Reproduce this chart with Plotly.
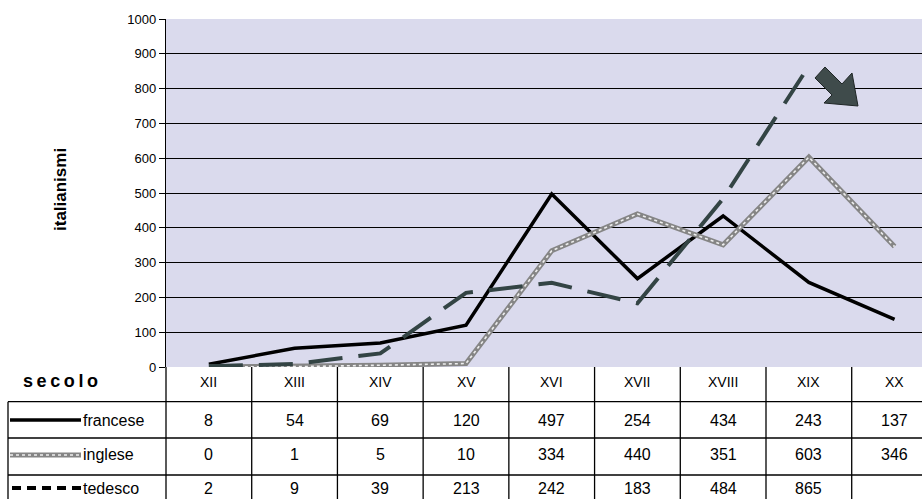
import plotly.graph_objects as go

# Italianisms per century in French, English and German
secoli = ["XII", "XIII", "XIV", "XV", "XVI", "XVII", "XVIII", "XIX", "XX"]
francese = [8, 54, 69, 120, 497, 254, 434, 243, 137]
inglese = [0, 1, 5, 10, 334, 440, 351, 603, 346]
tedesco = [2, 9, 39, 213, 242, 183, 484, 865, None]
serie = [("francese", francese), ("inglese", inglese), ("tedesco", tedesco)]
y_ticks = list(range(0, 1001, 100))

W, H = 922, 499
L, R, T, B = 166, 0, 19, 132
PW, PH = W - L - R, H - T - B
X_END = 8.32  # last column is cut by the right edge

def px(p):
    return (p - L) / PW

def py(p):
    return (H - B - p) / PH

FONT = "Liberation Sans, Arial, sans-serif"
BLACK = "#000000"
DARK = "#334444"

xs = list(range(len(secoli)))
fig = go.Figure()

fig.add_trace(go.Scatter(x=xs, y=francese, mode="lines",
                         line=dict(color=BLACK, width=3.5), hoverinfo="skip"))
fig.add_trace(go.Scatter(x=xs, y=inglese, mode="lines",
                         line=dict(color="#858585", width=5), hoverinfo="skip"))
fig.add_trace(go.Scatter(x=xs, y=inglese, mode="lines",
                         line=dict(color="#eeeeee", width=1.6, dash="dot"), hoverinfo="skip"))
fig.add_trace(go.Scatter(x=xs, y=tedesco, mode="lines",
                         line=dict(color=DARK, width=4, dash="34px,16px"), hoverinfo="skip"))

shapes = []
annotations = []

def label(x, y, text, size, xref="paper", xanchor="center", angle=0):
    annotations.append(dict(x=x, y=y, xref=xref, yref="paper", text=text,
                            xanchor=xanchor, yanchor="middle", textangle=angle,
                            showarrow=False, font=dict(family=FONT, size=size, color=BLACK)))

# data table: horizontal rules
row_lines = [401.7, 438, 475]
for yl in row_lines:
    shapes.append(dict(type="line", xref="paper", yref="paper",
                       x0=px(8), x1=1.0, y0=py(yl), y1=py(yl),
                       line=dict(color=BLACK, width=1.3)))
# vertical rules between centuries
for i in range(1, len(secoli)):
    shapes.append(dict(type="line", xref="x", yref="paper",
                       x0=i - 0.5, x1=i - 0.5, y0=0, y1=py(H),
                       line=dict(color=BLACK, width=1.3)))
# axis line continued through the table, and left border of legend column
shapes.append(dict(type="line", xref="paper", yref="paper", x0=0, x1=0,
                   y0=0, y1=py(H), line=dict(color=BLACK, width=1.3)))
shapes.append(dict(type="line", xref="paper", yref="paper", x0=px(8), x1=px(8),
                   y0=py(401.7), y1=py(H), line=dict(color=BLACK, width=1.3)))

# column headers
for i, s in enumerate(secoli):
    label(i, py(382), s, 14, xref="x")

# table rows with legend keys
row_centers = [420, 455, 488]
for (name, vals), yc in zip(serie, row_centers):
    label(px(81), py(yc), name, 16, xanchor="left")
    for i, v in enumerate(vals):
        if v is None:
            continue
        label(i, py(yc), str(v), 16, xref="x")

# legend keys
shapes.append(dict(type="line", xref="paper", yref="paper", x0=px(10), x1=px(81),
                   y0=py(420), y1=py(420), line=dict(color=BLACK, width=3.5)))
shapes.append(dict(type="line", xref="paper", yref="paper", x0=px(10), x1=px(81),
                   y0=py(455), y1=py(455), line=dict(color="#858585", width=5)))
shapes.append(dict(type="line", xref="paper", yref="paper", x0=px(10), x1=px(81),
                   y0=py(455), y1=py(455), line=dict(color="#eeeeee", width=1.6, dash="dot")))
shapes.append(dict(type="line", xref="paper", yref="paper", x0=px(12), x1=px(81),
                   y0=py(488), y1=py(488), line=dict(color=BLACK, width=4, dash="9px,6px")))

# "secolo" and axis title
label(px(60), py(381), "<b>s\u2009e\u2009c\u2009o\u2009l\u2009o</b>", 18)
label(px(60), py(190), "<b>italianismi</b>", 17, angle=-90)

# block arrow pointing down-right
pts = [(825, 67), (842, 84), (852, 73), (858, 106), (824, 103), (832, 95), (815, 78)]
path = "M " + " L ".join(f"{px(a):.5f},{py(b):.5f}" for a, b in pts) + " Z"
shapes.append(dict(type="path", xref="paper", yref="paper", path=path,
                   fillcolor="#3f4b4b", line=dict(color="#1f2626", width=1)))

fig.update_layout(
    width=W, height=H,
    margin=dict(l=L, r=R, t=T, b=B, pad=0),
    paper_bgcolor="white",
    plot_bgcolor="#dadaed",
    showlegend=False,
    shapes=shapes,
    annotations=annotations,
    xaxis=dict(range=[-0.5, X_END], showticklabels=False, showgrid=False,
               zeroline=False, showline=False, ticks=""),
    yaxis=dict(range=[0, 1000], tickvals=y_ticks, ticktext=[str(v) for v in y_ticks],
               showgrid=True, gridcolor=BLACK, gridwidth=1.2,
               zeroline=False, showline=True, linecolor=BLACK, linewidth=1.3,
               ticks="outside", ticklen=6, tickcolor=BLACK, tickwidth=1.3,
               tickfont=dict(family=FONT, size=13, color=BLACK)),
)

fig.write_html("out.html")
